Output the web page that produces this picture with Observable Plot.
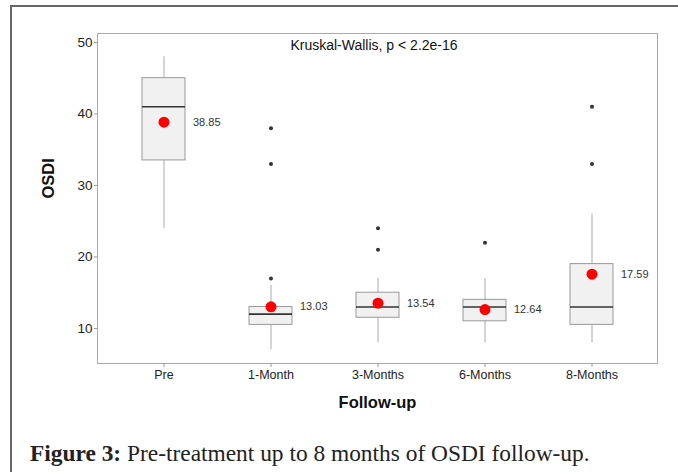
<!DOCTYPE html>
<html>
<head>
<meta charset="utf-8">
<script src="https://cdn.jsdelivr.net/npm/d3@7"></script>
<script src="https://cdn.jsdelivr.net/npm/@observablehq/plot@0.6"></script>
<style>
  body { margin: 0; background: #fff; }
  #wrap { position: relative; width: 678px; height: 472px; overflow: hidden; background: #fff; }
  #frameTop { position: absolute; left: 11px; top: 5px; width: 667px; height: 2px; background: #666; }
  #frameLeft { position: absolute; left: 10px; top: 5px; width: 2px; height: 467px; background: #666; }
  #chart { position: absolute; left: 0; top: 0; }
  #caption { position: absolute; left: 30px; top: 440px; font-family: "Liberation Serif", "Times New Roman", serif; font-size: 23.4px; color: #222; white-space: nowrap; }
</style>
</head>
<body>
<div id="wrap">
  <div id="frameTop"></div>
  <div id="frameLeft"></div>
  <div id="chart"></div>
  <div id="caption"><b>Figure 3:</b> Pre-treatment up to 8 months of OSDI follow-up.</div>
</div>
<script>
const groups = ["Pre", "1-Month", "3-Months", "6-Months", "8-Months"];
const whiskerLow = [24, 7, 8, 8, 8];
const q1 = [33.5, 10.5, 11.5, 11, 10.5];
const median = [41, 12, 13, 13, 13];
const q3 = [45, 13, 15, 14, 19];
const whiskerHigh = [48, 16, 17, 17, 26];
const means = [38.85, 13.03, 13.54, 12.64, 17.59];
const outlierGroup = ["1-Month", "1-Month", "1-Month", "3-Months", "3-Months", "6-Months", "8-Months", "8-Months"];
const outlierValue = [17, 33, 38, 21, 24, 22, 33, 41];
const yTicks = [10, 20, 30, 40, 50];
const testLabel = "Kruskal-Wallis, p < 2.2e-16";

const boxes = groups.map((g, i) => ({
  group: g, lo: whiskerLow[i], q1: q1[i], med: median[i], q3: q3[i], hi: whiskerHigh[i], mean: means[i]
}));
const outliers = outlierGroup.map((g, i) => ({group: g, value: outlierValue[i]}));

const chart = Plot.plot({
  width: 678,
  height: 425,
  marginLeft: 97,
  marginRight: 21,
  marginTop: 33,
  marginBottom: 62,
  style: {fontFamily: "'Liberation Sans', Arial, sans-serif", background: "transparent", color: "#222"},
  x: {domain: groups, paddingInner: 0.6, paddingOuter: 0.4, label: null},
  y: {domain: [5.1, 51.25], label: null},
  marks: [
    Plot.frame({stroke: "#aaa"}),
    Plot.axisY({ticks: yTicks, tickSize: 3, tickPadding: 2, fontSize: 13.5, stroke: "#999", fill: "#222", label: null}),
    Plot.axisX({tickSize: 4, tickPadding: 3, fontSize: 12.5, stroke: "#999", fill: "#222", label: null}),
    Plot.ruleX(boxes, {x: "group", y1: "q3", y2: "hi", stroke: "#aaa", strokeWidth: 1}),
    Plot.ruleX(boxes, {x: "group", y1: "lo", y2: "q1", stroke: "#aaa", strokeWidth: 1}),
    Plot.barY(boxes, {x: "group", y1: "q1", y2: "q3", fill: "#f1f1f1", stroke: "#999", strokeWidth: 1}),
    Plot.tickY(boxes, {x: "group", y: "med", stroke: "#333", strokeWidth: 1.6}),
    Plot.dot(outliers, {x: "group", y: "value", r: 2, fill: "#333", stroke: null}),
    Plot.dot(boxes, {x: "group", y: "mean", r: 5.5, fill: "#ff0000", stroke: null}),
    Plot.text(boxes, {x: "group", y: "mean", text: d => d.mean.toFixed(2), dx: 29, textAnchor: "start", fontSize: 11, fill: "#333"}),
    Plot.text([testLabel], {x: () => "3-Months", y: () => 49.6, text: d => d, dx: -4, fontSize: 14, fill: "#111"}),
    Plot.text(["OSDI"], {frameAnchor: "left", dx: -49, rotate: -90, fontSize: 16.5, fontWeight: "bold", fill: "#111"}),
    Plot.text(["Follow-up"], {frameAnchor: "bottom", dy: 44, fontSize: 16.5, fontWeight: "bold", fill: "#111"})
  ]
});
document.getElementById("chart").appendChild(chart);
</script>
</body>
</html>
